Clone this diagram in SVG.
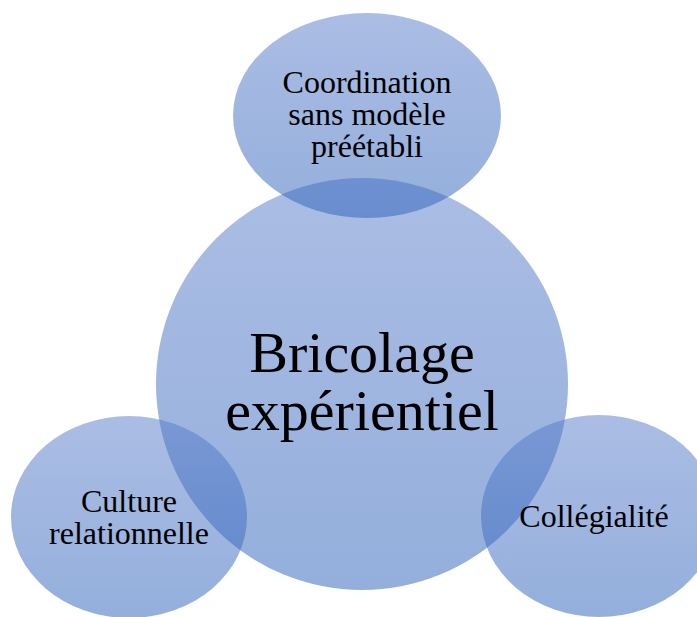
<svg xmlns="http://www.w3.org/2000/svg" width="697" height="617" viewBox="0 0 697 617">
  <defs>
    <linearGradient id="fillGrad" x1="0" y1="0" x2="0" y2="1">
      <stop offset="0" stop-color="#577bc9"/>
      <stop offset="1" stop-color="#295fb9"/>
    </linearGradient>
    <style>
      .shape { fill: url(#fillGrad); fill-opacity: 0.5; stroke: none; }
      .lbl { font-family: "Liberation Serif", "Times New Roman", serif; fill: #000; text-anchor: middle; }
      .small { font-size: 32px; }
      .big { font-size: 58px; }
    </style>
  </defs>
  <rect width="697" height="617" fill="#ffffff"/>
  <g id="connectors"></g>
  <g id="node-bricolage">
    <circle class="shape" cx="362" cy="384" r="206"/>
    <text class="lbl big" x="362" y="372">Bricolage</text>
    <text class="lbl big" x="362" y="430">expérientiel</text>
  </g>
  <g id="node-coordination">
    <ellipse class="shape" cx="367" cy="115.5" rx="134" ry="102.5"/>
    <text class="lbl small" x="367" y="93">Coordination</text>
    <text class="lbl small" x="367" y="125">sans modèle</text>
    <text class="lbl small" x="367" y="157">préétabli</text>
  </g>
  <g id="node-culture">
    <ellipse class="shape" cx="129" cy="517" rx="118" ry="101"/>
    <text class="lbl small" x="129" y="512">Culture</text>
    <text class="lbl small" x="129" y="544">relationnelle</text>
  </g>
  <g id="node-collegialite">
    <ellipse class="shape" cx="599" cy="516" rx="118" ry="101"/>
    <text class="lbl small" x="594" y="527">Collégialité</text>
  </g>
</svg>
